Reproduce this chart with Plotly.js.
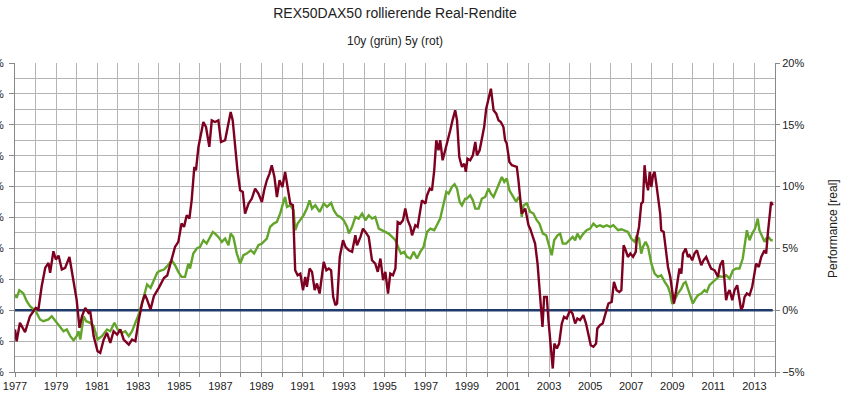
<!DOCTYPE html>
<html>
<head>
<meta charset="utf-8">
<script src="https://cdn.plot.ly/plotly-3.0.1.min.js"></script>
<style>
html,body{margin:0;padding:0;background:#fff;}
#chart{width:845px;height:398px;}
</style>
</head>
<body>
<div id="chart"></div>
<script>
// 5-year rolling real return (red)
const years5 = [
1977.00,1977.08,1977.24,1977.49,1977.73,1978.01,1978.14,1978.30,1978.47,1978.63,1978.71,1978.87,1978.99,
1979.12,1979.28,1979.44,1979.65,1979.85,1980.00,1980.14,1980.26,1980.42,1980.58,1980.66,1980.83,
1981.02,1981.15,1981.32,1981.48,1981.64,1981.80,1981.97,1982.13,1982.29,1982.54,1982.70,1982.86,
1983.03,1983.19,1983.32,1983.43,1983.60,1983.76,1984.00,1984.25,1984.41,1984.63,1984.79,1984.95,
1985.11,1985.23,1985.36,1985.49,1985.60,1985.73,1985.81,1985.93,1986.04,1986.17,1986.30,1986.46,
1986.58,1986.74,1986.90,1987.03,1987.23,1987.39,1987.50,1987.60,1987.72,1987.83,1987.96,1988.09,
1988.20,1988.37,1988.53,1988.69,1988.85,1989.02,1989.13,1989.26,1989.39,1989.50,1989.63,1989.75,
1989.88,1990.02,1990.15,1990.27,1990.40,1990.53,1990.64,1990.76,1990.89,1991.02,1991.13,1991.21,
1991.34,1991.46,1991.59,1991.70,1991.83,1992.03,1992.16,1992.28,1992.39,1992.49,1992.60,1992.68,
1992.81,1992.97,1993.09,1993.25,1993.41,1993.57,1993.65,1993.82,1993.94,1994.06,1994.22,1994.38,
1994.54,1994.66,1994.79,1994.92,1995.03,1995.16,1995.27,1995.40,1995.52,1995.63,1995.76,1995.89,
1996.00,1996.12,1996.25,1996.33,1996.49,1996.60,1996.73,1996.81,1996.98,1997.06,1997.19,1997.30,
1997.41,1997.51,1997.62,1997.70,1997.82,1997.95,1998.03,1998.19,1998.30,1998.43,1998.52,1998.63,
1998.76,1998.87,1998.95,1999.03,1999.16,1999.29,1999.41,1999.49,1999.62,1999.73,1999.84,1999.94,
2000.05,2000.17,2000.30,2000.43,2000.54,2000.65,2000.78,2000.86,2000.94,2001.07,2001.19,2001.30,
2001.43,2001.51,2001.59,2001.67,2001.84,2002.00,2002.08,2002.21,2002.32,2002.44,2002.52,2002.60,
2002.68,2002.76,2002.89,2002.97,2003.08,2003.18,2003.26,2003.38,2003.49,2003.62,2003.73,2003.86,
2004.02,2004.14,2004.27,2004.38,2004.51,2004.67,2004.80,2004.92,2005.03,2005.16,2005.29,2005.35,
2005.48,2005.61,2005.73,2005.81,2005.89,2006.05,2006.16,2006.29,2006.42,2006.52,2006.63,2006.73,
2006.84,2006.96,2007.09,2007.22,2007.28,2007.38,2007.49,2007.57,2007.65,2007.73,2007.82,2007.90,
2007.98,2008.06,2008.14,2008.22,2008.30,2008.41,2008.46,2008.58,2008.67,2008.79,2008.90,2009.00,
2009.08,2009.19,2009.27,2009.35,2009.44,2009.52,2009.65,2009.76,2009.84,2009.97,2010.08,2010.20,
2010.29,2010.41,2010.52,2010.65,2010.78,2010.89,2011.06,2011.22,2011.33,2011.46,2011.54,2011.62,
2011.70,2011.79,2011.92,2012.03,2012.16,2012.27,2012.35,2012.43,2012.52,2012.63,2012.76,2012.89,
2013.00,2013.08,2013.21,2013.33,2013.49,2013.57,2013.65,2013.73,2013.81,2013.89
];
const ret5 = [
-1.56,-2.51,-1.02,-1.78,-0.49,0.19,0.05,1.94,3.42,3.83,3.02,4.77,4.10,
4.42,3.29,3.42,4.31,2.48,0.86,-1.43,-0.49,0.19,-0.22,-0.08,-2.10,
-3.32,-3.45,-2.37,-1.83,-2.64,-1.70,-1.97,-1.56,-2.37,-2.78,-2.37,-2.51,
-0.75,0.59,1.27,0.86,0.05,1.13,1.81,2.61,2.80,4.04,5.12,5.53,
7.01,6.74,7.68,7.41,8.89,11.59,11.32,13.21,14.29,15.23,14.82,13.21,
15.36,15.23,15.36,13.61,13.75,15.09,16.04,15.36,13.21,11.32,9.70,9.57,
7.82,8.63,9.03,9.84,9.43,8.76,9.70,10.51,11.05,11.73,10.78,9.16,
10.51,9.97,11.19,9.97,8.63,8.49,3.23,2.83,2.96,1.62,2.70,1.89,
3.37,3.10,1.62,2.16,1.35,3.91,3.23,3.37,3.23,1.08,0.40,0.54,
4.31,5.66,5.12,4.85,4.72,6.06,5.26,5.93,6.60,6.33,5.93,4.04,
3.77,3.10,4.18,2.43,3.10,1.35,2.96,2.83,3.37,7.14,7.01,7.28,
8.22,7.28,6.74,6.06,6.87,6.74,7.95,8.89,8.63,9.30,9.84,9.70,
11.32,13.75,12.94,13.75,12.13,12.94,13.61,14.56,15.36,16.17,15.36,12.40,
11.59,11.86,11.19,12.26,12.13,12.53,13.61,12.53,12.94,13.75,14.82,16.31,
16.98,17.92,16.17,15.90,15.36,15.23,14.82,13.75,13.48,11.99,11.73,11.64,
11.59,10.51,8.89,7.82,8.22,6.87,6.60,5.93,5.39,3.77,1.89,0.27,
-1.35,1.08,1.08,-0.81,-2.96,-4.72,-2.70,-3.10,-2.70,-1.08,-0.54,-0.67,
0.00,-0.27,-1.08,-0.67,-0.81,-0.40,-1.08,-2.16,-2.83,-2.96,-2.70,-1.48,
-1.21,-1.08,-0.40,0.00,0.54,0.67,2.29,1.62,1.48,1.62,5.26,4.85,
4.31,4.58,4.31,4.72,5.93,6.74,8.63,8.76,11.73,10.38,9.70,11.19,
9.97,10.92,11.19,10.24,9.16,7.82,6.47,6.33,5.12,3.50,2.70,1.48,
0.54,1.62,2.70,3.37,2.96,4.58,4.99,4.31,4.45,4.04,4.58,4.85,
4.31,3.64,4.04,4.31,3.77,3.37,3.23,2.70,3.64,4.04,2.43,0.81,
1.35,1.62,0.81,1.62,2.02,0.81,0.05,0.27,1.08,1.35,1.21,1.89,
2.96,3.77,3.50,4.31,4.85,4.58,6.20,7.82,8.76,8.49
];

// 10-year rolling real return (green)
const years10 = [
1977.00,1977.08,1977.21,1977.41,1977.57,1977.73,1978.01,1978.22,1978.38,1978.63,1978.79,1978.99,
1979.20,1979.36,1979.52,1979.69,1979.85,1980.00,1980.09,1980.18,1980.34,1980.47,1980.66,1980.83,
1981.02,1981.23,1981.48,1981.64,1981.84,1982.00,1982.21,1982.37,1982.54,1982.70,1982.86,1982.99,
1983.19,1983.43,1983.60,1983.76,1983.92,1984.00,1984.25,1984.41,1984.63,1984.79,1984.95,
1985.11,1985.28,1985.44,1985.52,1985.68,1985.85,1986.01,1986.17,1986.33,1986.50,1986.63,1986.74,
1986.90,1987.07,1987.23,1987.39,1987.50,1987.63,1987.80,1987.96,1988.12,1988.28,1988.48,1988.64,
1988.85,1989.02,1989.26,1989.42,1989.59,1989.75,1989.91,1990.07,1990.15,1990.24,1990.40,1990.56,
1990.64,1990.76,1990.89,1991.05,1991.21,1991.34,1991.46,1991.62,1991.83,
1992.03,1992.19,1992.39,1992.52,1992.68,1992.84,1993.00,1993.17,1993.25,1993.41,1993.57,1993.73,
1993.90,1994.06,1994.22,1994.38,1994.54,1994.71,1994.87,1995.03,1995.19,1995.36,1995.52,1995.68,
1995.79,1995.95,1996.08,1996.25,1996.41,1996.57,1996.73,1996.89,1997.06,1997.22,1997.41,1997.58,
1997.70,1997.87,1998.00,1998.11,1998.27,1998.40,1998.52,1998.65,1998.76,1998.92,
1999.00,1999.16,1999.29,1999.41,1999.57,1999.73,1999.89,2000.05,2000.17,2000.30,2000.46,2000.59,
2000.70,2000.82,2000.94,2001.07,2001.24,2001.40,2001.51,2001.59,2001.67,2001.76,2001.92,2002.08,
2002.24,2002.40,2002.53,2002.70,2002.86,2003.02,2003.13,2003.25,2003.41,2003.54,2003.67,2003.83,
2003.99,2004.15,2004.27,2004.38,2004.51,2004.67,2004.83,2005.00,2005.16,2005.32,2005.48,2005.65,
2005.81,2005.97,2006.13,2006.29,2006.36,2006.52,2006.68,2006.84,2007.00,2007.17,2007.25,2007.38,
2007.49,2007.57,2007.70,2007.82,2007.98,2008.14,2008.30,2008.46,2008.63,2008.79,2008.90,2009.00,
2009.11,2009.27,2009.44,2009.55,2009.65,2009.76,2009.87,2010.00,2010.13,2010.25,2010.41,2010.57,
2010.68,2010.81,2010.98,2011.14,2011.30,2011.46,2011.62,2011.79,2011.95,2012.11,2012.27,2012.43,
2012.52,2012.63,2012.76,2012.89,2013.03,2013.16,2013.24,2013.37,2013.49,2013.57,2013.70,2013.81,2013.89
];
const ret10 = [
1.27,1.00,1.62,1.35,0.73,0.32,-0.08,-0.75,-0.89,-0.75,-0.49,-0.89,
-1.29,-1.70,-1.56,-2.10,-2.43,-2.10,-1.70,-2.37,-0.49,-0.89,-1.02,-1.29,
-2.37,-2.10,-1.56,-1.70,-1.02,-1.56,-1.83,-1.70,-2.10,-1.70,-1.02,-0.49,
0.59,2.08,1.81,2.35,3.02,3.15,3.29,3.56,4.04,3.64,3.10,
2.70,2.70,3.77,3.37,4.58,4.99,5.12,5.66,5.39,5.93,6.33,6.20,
5.93,5.53,5.80,5.26,6.20,5.93,4.58,3.77,4.45,4.58,4.85,4.58,
5.26,5.39,5.80,6.74,7.01,7.14,7.82,8.76,9.16,8.36,8.49,8.09,
6.47,7.01,7.28,7.68,8.22,8.89,8.22,8.49,7.95,
8.63,8.36,8.68,8.09,7.68,7.55,7.28,6.74,6.20,6.74,7.55,7.41,
7.82,7.28,7.68,7.41,7.55,6.60,6.47,6.33,6.20,5.93,5.66,4.99,
4.58,4.72,4.31,4.18,4.72,4.18,4.72,5.12,6.33,6.60,6.47,7.01,
7.41,8.63,9.57,9.43,9.97,10.19,9.84,8.76,8.49,9.03,
9.03,9.30,8.89,8.22,8.22,9.03,9.16,9.84,9.43,9.16,9.84,10.24,
10.78,10.38,10.65,9.70,9.16,8.76,9.16,8.89,7.55,8.49,8.63,7.95,
7.82,7.28,7.01,6.20,6.06,5.12,4.45,5.66,6.06,6.20,5.39,5.39,
5.66,5.93,5.66,6.20,5.80,6.20,6.47,6.60,7.01,6.74,6.87,6.74,
6.87,6.74,6.87,6.60,6.47,6.55,6.47,6.33,5.80,5.53,5.93,5.80,
4.58,5.12,5.53,5.12,3.77,2.96,2.70,2.83,2.29,1.89,1.35,0.49,
0.81,1.35,1.75,2.16,2.29,1.75,1.35,0.54,0.94,1.21,1.35,1.62,
1.48,2.02,2.29,2.56,2.75,2.70,2.83,2.56,3.23,3.37,3.37,4.18,
5.12,6.47,5.66,6.20,6.60,7.41,6.47,5.93,5.53,5.80,5.88,5.66,5.66
];

// zero reference line
const zeroYears = [1977.0, 2013.89];
const zeroVals = [0, 0];

const titleText = 'REX50DAX50 rollierende Real-Rendite';
const subtitleText = '10y (grün) 5y (rot)';
const rightAxisTitle = 'Performance [real]';

const FONT = 'Liberation Sans, Arial, sans-serif';
const GRID = '#b4b4b4';

const traces = [
  {x: zeroYears, y: zeroVals, type: 'scatter', mode: 'lines',
   line: {color: '#1f3a6b', width: 2.6}, hoverinfo: 'skip'},
  {x: years10, y: ret10, type: 'scatter', mode: 'lines', name: '10y',
   line: {color: '#62a52a', width: 2.4}},
  {x: years5, y: ret5, type: 'scatter', mode: 'lines', name: '5y',
   line: {color: '#7e0021', width: 2.4}},
  {x: [1977], y: [0], yaxis: 'y2', type: 'scatter', mode: 'markers',
   marker: {opacity: 0}, hoverinfo: 'skip'}
];

const layout = {
  width: 845, height: 398,
  margin: {l: 15, r: 70, t: 63, b: 26, pad: 0},
  paper_bgcolor: '#ffffff', plot_bgcolor: '#ffffff',
  showlegend: false,
  font: {family: FONT, size: 11, color: '#222'},
  title: {text: titleText, font: {family: FONT, size: 14, color: '#222'},
          x: 0.5, xref: 'paper', y: 1 - 13/398, yref: 'container', yanchor: 'middle'},
  xaxis: {
    range: [1977, 2014], tick0: 1977, dtick: 2, tickformat: 'd',
    showgrid: true, gridcolor: GRID, gridwidth: 1,
    ticks: 'outside', ticklen: 4, tickcolor: '#888',
    showline: true, linecolor: '#888', linewidth: 1, zeroline: false,
    minor: {dtick: 1, tick0: 1977, showgrid: true, gridcolor: GRID, gridwidth: 1,
            ticks: 'outside', ticklen: 4, tickcolor: '#888'},
    tickfont: {family: FONT, size: 11, color: '#222'}, fixedrange: true
  },
  yaxis: {
    range: [-5, 20], tick0: -5, dtick: 2.5, ticksuffix: '%',
    showgrid: true, gridcolor: GRID, gridwidth: 1,
    ticks: 'outside', ticklen: 5, tickcolor: '#888', ticklabelstandoff: 3,
    showline: true, linecolor: '#888', linewidth: 1, zeroline: false,
    minor: {dtick: 1.25, tick0: -5, showgrid: true, gridcolor: GRID, gridwidth: 1},
    tickfont: {family: FONT, size: 11, color: '#222'}, fixedrange: true
  },
  yaxis2: {
    overlaying: 'y', side: 'right', range: [-5, 20], tick0: -5, dtick: 5,
    ticksuffix: '%', showgrid: false, zeroline: false,
    ticks: 'outside', ticklen: 4, tickcolor: '#888',
    showline: true, linecolor: '#888', linewidth: 1,
    tickfont: {family: FONT, size: 11, color: '#222'}, fixedrange: true
  },
  annotations: [
    {text: subtitleText, xref: 'paper', yref: 'paper', x: 0.5, y: 1 + (63 - 41)/309,
     xanchor: 'center', yanchor: 'middle', showarrow: false,
     font: {family: FONT, size: 12, color: '#222'}},
    {text: rightAxisTitle, xref: 'paper', yref: 'paper', x: (833 - 15)/760, y: (372 - 228)/309,
     xanchor: 'center', yanchor: 'middle', showarrow: false, textangle: -90,
     font: {family: FONT, size: 12, color: '#222'}}
  ]
};

Plotly.newPlot('chart', traces, layout, {displayModeBar: false, staticPlot: true});
</script>
</body>
</html>
